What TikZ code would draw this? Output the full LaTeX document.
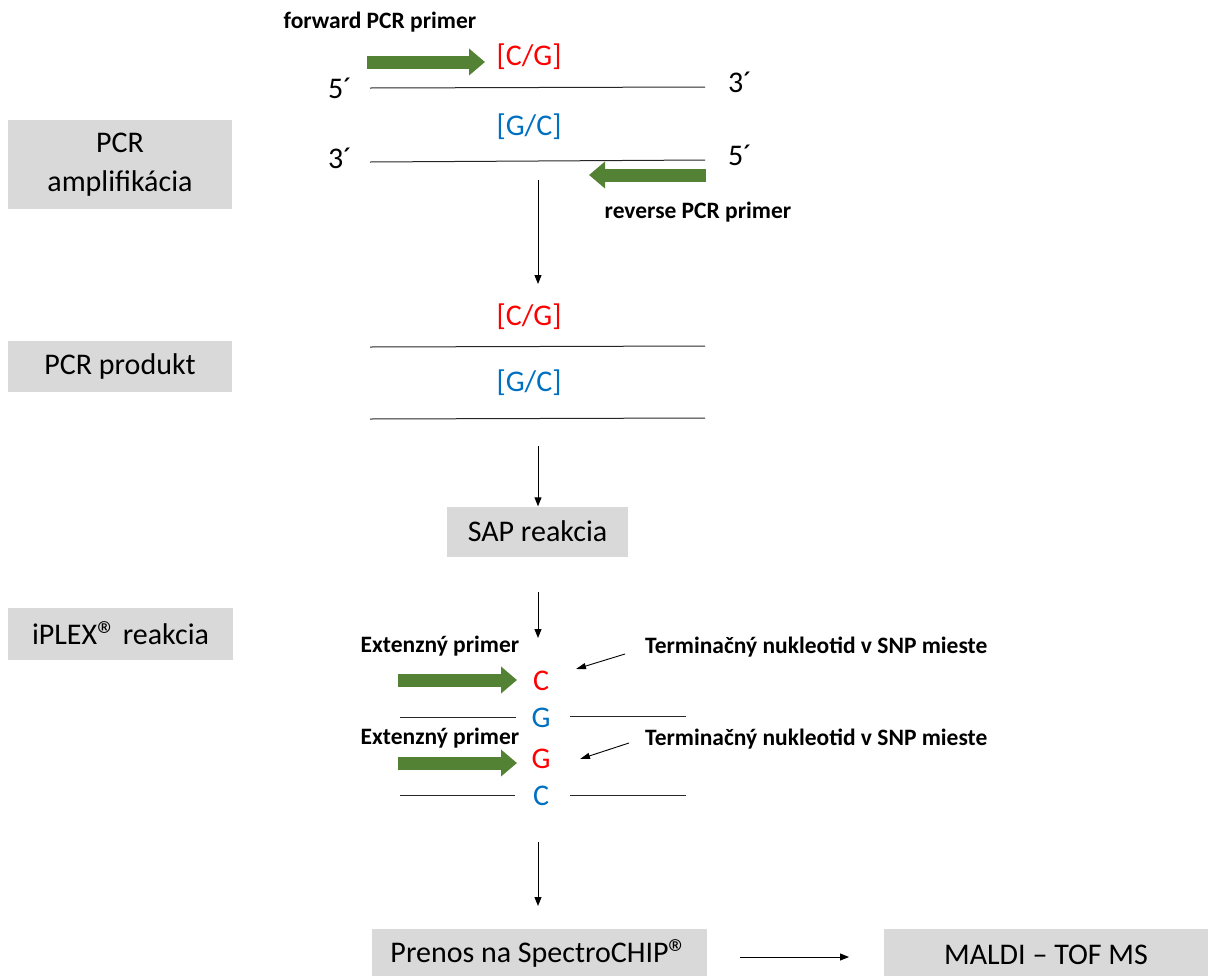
\documentclass[tikz,border=0pt]{standalone}
\usepackage{fontspec}
\usepackage{graphicx}
\setmainfont{Carlito}
\usetikzlibrary{arrows.meta}
\definecolor{boxgray}{RGB}{217,217,217}
\definecolor{primergreen}{RGB}{84,130,53}
\definecolor{snpred}{RGB}{255,0,0}
\definecolor{snpblue}{RGB}{0,112,192}
% registered-trademark sign, a little larger than the font's own
\newcommand{\regmark}{\smash{\raisebox{-4pt}{\scalebox{1.3}{®}}}}
\tikzset{
  stagebox/.style={fill=boxgray, inner sep=0pt, align=center,
    font=\fontsize{30}{36}\selectfont},
  boldlabel/.style={inner sep=0pt, font=\bfseries\fontsize{23.5}{28}\selectfont},
  endlabel/.style={inner sep=0pt, font=\fontsize{30}{36}\selectfont},
  redbase/.style={inner sep=0pt, text=snpred, font=\fontsize{30}{36}\selectfont},
  bluebase/.style={inner sep=0pt, text=snpblue, font=\fontsize{30}{36}\selectfont},
  strand/.style={draw=black!85, line width=1pt},
  primer/.style={draw=primergreen, line width=13pt,
    -{Triangle[width=26pt,length=16pt]}},
  flow/.style={draw=black, line width=1pt, -{Triangle[length=9pt,width=7pt]}},
  pointer/.style={draw=black, line width=0.9pt, -{Triangle[length=10pt,width=6pt]}}
}
\begin{document}
\begin{tikzpicture}[x=1pt,y=-1pt]
\useasboundingbox (0,0) rectangle (1208,975);
\clip (0,0) rectangle (1208,975);

% stage boxes on the left
\node[stagebox, minimum width=224pt, minimum height=89pt] (amp) at (120,164.5) {PCR\\[3pt]amplifikácia};
\node[stagebox, minimum width=224pt, minimum height=51pt] (prod) at (120,366.5) {PCR produkt};
\node[stagebox, minimum width=225pt, minimum height=52pt] (iplex) at (120.5,634) {iPLEX\regmark\hspace{-1pt} reakcia};

% boxes on the main flow
\node[stagebox, minimum width=181pt, minimum height=50pt] (sap) at (537.5,531.5) {SAP reakcia};
\node[stagebox, minimum width=335pt, minimum height=52pt] (chip) at (539.5,955) {Prenos na SpectroCHIP\regmark};
\node[stagebox, minimum width=324pt, minimum height=52pt] (maldi) at (1046,955) {MALDI – TOF MS};

% ---- PCR amplification: template strands and primers
\node[boldlabel] (fwdlbl) at (380,22) {forward PCR primer};
\coordinate (fwdA) at (367,62);
\coordinate (fwdB) at (485,62);
\draw[primer] (fwdA) -- (fwdB);
\node[redbase] (cg1) at (529,57) {[C/G]};

\node[endlabel] (t5a) at (340,88) {5´};
\node[endlabel] (t3a) at (740,82) {3´};
\coordinate (s1a) at (370,88);
\coordinate (s1b) at (705,87);
\draw[strand] (s1a) -- (s1b);

\node[bluebase] (gc1) at (529,127) {[G/C]};
\node[endlabel] (t3b) at (340,158) {3´};
\node[endlabel] (t5b) at (740,155) {5´};
\coordinate (s2a) at (370,162);
\coordinate (s2b) at (705,160);
\draw[strand] (s2a) -- (s2b);

\coordinate (revA) at (706,175);
\coordinate (revB) at (589,175);
\draw[primer] (revA) -- (revB);
\node[boldlabel] (revlbl) at (698,212) {reverse PCR primer};

\coordinate (f1a) at (538,180);
\coordinate (f1b) at (538,284);
\draw[flow] (f1a) -- (f1b);

% ---- PCR product
\node[redbase] (cg2) at (529,317) {[C/G]};
\coordinate (p1a) at (370,347);
\coordinate (p1b) at (705,346);
\draw[strand] (p1a) -- (p1b);
\node[bluebase] (gc2) at (529,383) {[G/C]};
\coordinate (p2a) at (370,419);
\coordinate (p2b) at (705,418);
\draw[strand] (p2a) -- (p2b);

\coordinate (f2a) at (538,446);
\draw[flow] (f2a) -- (sap.north -| f2a);
\coordinate (f3a) at (538,592);
\coordinate (f3b) at (538,638);
\draw[flow] (f3a) -- (f3b);

% ---- iPLEX extension
\node[boldlabel] (ext1) at (440,646) {Extenzný primer};
\coordinate (e1a) at (398,680);
\coordinate (e1b) at (517,680);
\draw[primer] (e1a) -- (e1b);
\node[redbase] (nC1) at (541,681) {C};
\node[boldlabel, anchor=west] (term1) at (645,647) {Terminačný nukleotid v SNP mieste};
\coordinate (k1a) at (625,654);
\coordinate (k1b) at (576,669);
\draw[pointer] (k1a) -- (k1b);

\node[bluebase] (nG1) at (541,718) {G};
\coordinate (l1a) at (400,717);
\coordinate (l1m) at (516,717);
\coordinate (l1b) at (570,716);
\coordinate (l1e) at (686,716);
\draw[strand] (l1a) -- (l1m);
\draw[strand] (l1b) -- (l1e);

\node[boldlabel] (ext2) at (440,738) {Extenzný primer};
\coordinate (e2a) at (398,763);
\coordinate (e2b) at (517,763);
\draw[primer] (e2a) -- (e2b);
\node[redbase] (nG2) at (541,759) {G};
\node[boldlabel, anchor=west] (term2) at (645,739) {Terminačný nukleotid v SNP mieste};
\coordinate (k2a) at (629,743);
\coordinate (k2b) at (580,759);
\draw[pointer] (k2a) -- (k2b);

\node[bluebase] (nC2) at (541,796) {C};
\coordinate (l2a) at (400,795);
\coordinate (l2m) at (515,795);
\coordinate (l2b) at (570,795);
\coordinate (l2e) at (686,795);
\draw[strand] (l2a) -- (l2m);
\draw[strand] (l2b) -- (l2e);

\coordinate (f4a) at (538,842);
\coordinate (f4b) at (538,906);
\draw[flow] (f4a) -- (f4b);

% ---- transfer to chip and mass spectrometry
\coordinate (h1) at (740,957);
\coordinate (h2) at (849,957);
\draw[flow] (h1) -- (h2);
\end{tikzpicture}
\end{document}
